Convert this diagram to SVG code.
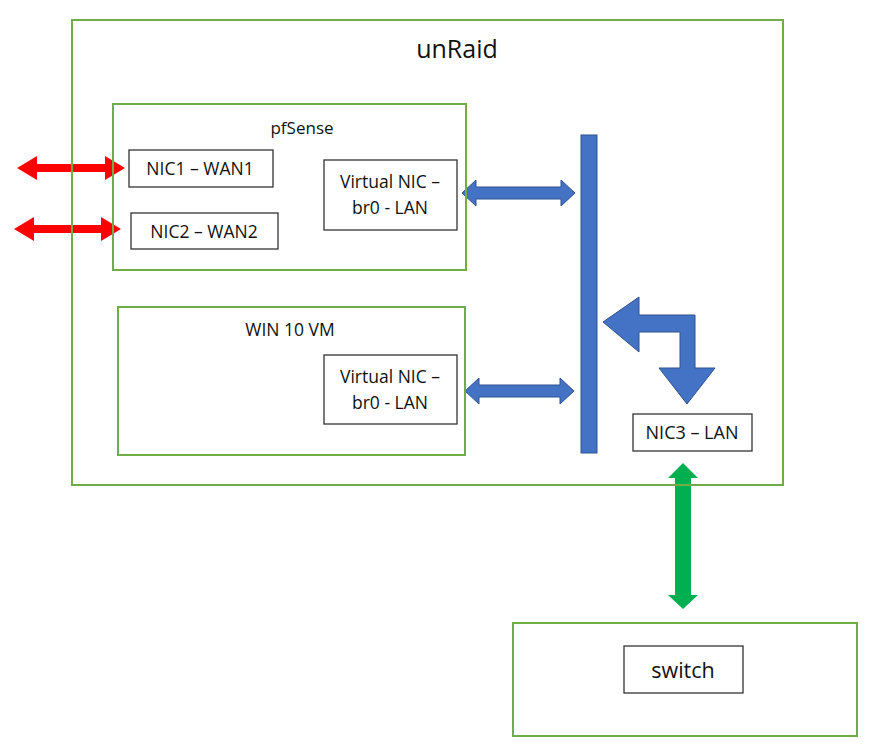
<svg xmlns="http://www.w3.org/2000/svg" width="870" height="750" viewBox="0 0 870 750">
<style>
.grp{fill:none;stroke:#70AD47;stroke-width:2}
.box{fill:#fff;stroke:#333;stroke-width:1.3}
.t{font-family:"Open Sans","Liberation Sans",sans-serif;fill:#111;text-anchor:middle}
.m{font-size:17.5px}
.blue{fill:#4472C4;stroke:#2F528F;stroke-width:1}
.red{fill:#FF0000}
.green{fill:#00B050}
</style>
<rect width="870" height="750" fill="#fff"/>
<g id="connectors">
<polygon class="red" points="17,168 37,156 37,164 105,164 105,156 125,168 105,180 105,172 37,172 37,180"/>
<polygon class="red" points="14,229 34,217 34,225 101,225 101,217 121,229 101,241 101,233 34,233 34,241"/>
<polygon class="blue" points="462,193 476,180 476,187 561,187 561,180 575,193 561,206 561,199 476,199 476,206"/>
<polygon class="blue" points="465,391 479,378 479,385 560,385 560,378 574,391 560,404 560,397 479,397 479,404"/>
<polygon class="blue" points="603,322 639,297 639,315 695,315 695,368 715,368 687,404 659,368 680,368 680,332 639,332 639,352"/>
<polygon class="green" points="683,463 698,478 691,478 691,595 698,595 683,609 668,595 675,595 675,478 668,478"/>
</g>
<g id="unraid">
<rect class="grp" x="72" y="20" width="711" height="465"/>
<text class="t" x="457" y="58" font-size="25">unRaid</text>
</g>
<g id="pfsense">
<rect class="grp" x="113" y="104" width="353" height="166"/>
<text class="t" x="302" y="134" font-size="17">pfSense</text>
</g>
<g id="nic1">
<rect class="box" x="129" y="150" width="144" height="37"/>
<text class="t m" x="200" y="175">NIC1 – WAN1</text>
</g>
<g id="nic2">
<rect class="box" x="131" y="213" width="147" height="36"/>
<text class="t m" x="204" y="238">NIC2 – WAN2</text>
</g>
<g id="vnic1">
<rect class="box" x="324" y="160" width="133" height="70"/>
<text class="t m" x="390" y="188">Virtual NIC –</text>
<text class="t m" x="390" y="214">br0 - LAN</text>
</g>
<g id="win10">
<rect class="grp" x="118" y="307" width="347" height="148"/>
<text class="t" x="290" y="336" font-size="17.5">WIN 10 VM</text>
</g>
<g id="vnic2">
<rect class="box" x="324" y="355" width="133" height="69"/>
<text class="t m" x="390" y="383">Virtual NIC –</text>
<text class="t m" x="390" y="409">br0 - LAN</text>
</g>
<g id="bridge">
<rect class="blue" x="581" y="135" width="16" height="318"/>
</g>
<g id="nic3">
<rect class="box" x="633" y="414" width="119" height="37"/>
<text class="t" x="692" y="439" font-size="18">NIC3 – LAN</text>
</g>
<g id="switch-group">
<rect class="grp" x="513" y="623" width="344" height="113"/>
</g>
<g id="switch">
<rect class="box" x="624" y="646" width="119" height="47"/>
<text class="t" x="683" y="678" font-size="21.5">switch</text>
</g>
</svg>
